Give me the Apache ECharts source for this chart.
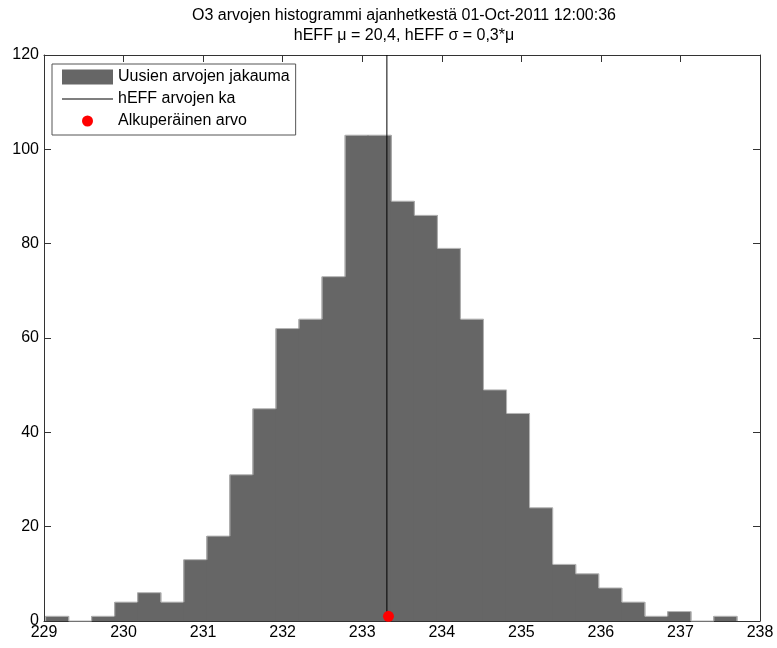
<!DOCTYPE html>
<html>
<head>
<meta charset="utf-8">
<script src="https://cdn.jsdelivr.net/npm/echarts@6/dist/echarts.min.js"></script>
<style>
  html, body { margin: 0; padding: 0; background: #fff; }
  #chart { width: 777px; height: 648px; }
</style>
</head>
<body>
<div id="chart"></div>
<script>
// Histogram bin centres (O3 values) and counts per bin
const binCenters = [
  229.165, 229.454, 229.744, 230.034, 230.323, 230.613, 230.903, 231.193, 231.482, 231.772,
  232.062, 232.351, 232.641, 232.931, 233.220, 233.510, 233.800, 234.089, 234.379, 234.669,
  234.958, 235.248, 235.538, 235.827, 236.117, 236.407, 236.696, 236.986, 237.276, 237.565
];
const binCounts = [
  1, 0, 1, 4, 6, 4, 13, 18, 31, 45,
  62, 64, 73, 103, 103, 89, 86, 79, 64, 49,
  44, 24, 12, 10, 7, 4, 1, 2, 0, 1
];
const binWidth = 0.2897;

// Mean of the hEFF values (vertical line) and the original value (red dot)
const meanLine = [[233.31, 0], [233.31, 120]];
const originalValue = [[233.33, 1]];

// Axis ticks
const xTicks = { min: 229, max: 238, step: 1 };
const yTicks = { min: 0, max: 120, step: 20 };

const titleText = 'O3 arvojen histogrammi ajanhetkestä 01-Oct-2011 12:00:36\nhEFF μ = 20,4, hEFF σ = 0,3*μ';
const legendNames = ['Uusien arvojen jakauma', 'hEFF arvojen ka', 'Alkuperäinen arvo'];

const FONT = '"Liberation Sans", Arial, Helvetica, sans-serif';
const AXIS_COLOR = '#333';
const BAR_FILL = '#666666';
const BAR_EDGE = '#b4b4b4';

const histData = binCenters.map((c, i) => [c, binCounts[i]]);

const chart = echarts.init(document.getElementById('chart'), null, { renderer: 'canvas' });

const frameAxis = (extra) => Object.assign({
  type: 'value',
  axisLine: { show: true, onZero: false, lineStyle: { color: AXIS_COLOR, width: 1 } },
  axisTick: { show: true, inside: true, length: 7, lineStyle: { color: AXIS_COLOR } },
  splitLine: { show: false }
}, extra);

// Each bar: a filled rectangle (slightly widened so neighbours meet without
// seams) plus a light outline along its top and along the parts of its
// sides that rise above the neighbouring bars.
function renderBin(params, api) {
  const i = params.dataIndexInside;
  const n = params.dataInsideLength;
  const c = api.value(0, i);
  const v = api.value(1, i);
  const prev = i > 0 ? api.value(1, i - 1) : 0;
  const next = i < n - 1 ? api.value(1, i + 1) : 0;
  const tl = api.coord([c - binWidth / 2, v]);
  const br = api.coord([c + binWidth / 2, 0]);
  const children = [{
    type: 'rect',
    shape: { x: tl[0] - 0.5, y: tl[1], width: br[0] - tl[0] + 1, height: br[1] - tl[1] },
    style: { fill: BAR_FILL }
  }, {
    type: 'line',
    shape: { x1: tl[0], y1: tl[1], x2: br[0], y2: tl[1] },
    style: { stroke: BAR_EDGE, lineWidth: 1 }
  }];
  if (v > prev) {
    const low = api.coord([c - binWidth / 2, prev]);
    children.push({
      type: 'line',
      shape: { x1: tl[0], y1: tl[1], x2: tl[0], y2: low[1] },
      style: { stroke: BAR_EDGE, lineWidth: 1 }
    });
  }
  if (v > next) {
    const low = api.coord([c + binWidth / 2, next]);
    children.push({
      type: 'line',
      shape: { x1: br[0], y1: tl[1], x2: br[0], y2: low[1] },
      style: { stroke: BAR_EDGE, lineWidth: 1 }
    });
  }
  return { type: 'group', children: children };
}

chart.setOption({
  animation: false,
  backgroundColor: '#fff',
  textStyle: { fontFamily: FONT },
  title: {
    text: titleText,
    left: 404,
    top: 6,
    padding: 0,
    textAlign: 'center',
    textStyle: { fontFamily: FONT, fontSize: 16, fontWeight: 'normal', color: '#000', lineHeight: 20 }
  },
  grid: { left: 44, right: 17, top: 55, bottom: 27 },
  legend: {
    orient: 'vertical',
    left: 52,
    top: 64,
    padding: [5, 6, 6, 10],
    itemWidth: 51,
    itemHeight: 15,
    itemGap: 6,
    borderColor: '#555',
    borderWidth: 1,
    backgroundColor: '#fff',
    textStyle: { fontFamily: FONT, fontSize: 16, color: '#000', lineHeight: 16 },
    data: [
      { name: legendNames[0], icon: 'rect' },
      { name: legendNames[1], icon: 'path://M0,0M51,15M0,7h51v1h-51z' },
      { name: legendNames[2], icon: 'path://M0,0M51,15M31,7.5a5.5,5.5 0 1,0 -11,0a5.5,5.5 0 1,0 11,0z' }
    ]
  },
  xAxis: [
    frameAxis({
      position: 'bottom',
      min: xTicks.min, max: xTicks.max, interval: xTicks.step,
      axisLabel: { color: '#000', fontSize: 16, fontFamily: FONT, margin: 4 }
    }),
    frameAxis({
      position: 'top',
      min: xTicks.min, max: xTicks.max, interval: xTicks.step,
      axisLabel: { show: false }
    })
  ],
  yAxis: [
    frameAxis({
      position: 'left',
      min: yTicks.min, max: yTicks.max, interval: yTicks.step,
      axisLabel: { color: '#000', fontSize: 16, fontFamily: FONT, margin: 5 }
    }),
    frameAxis({
      position: 'right',
      min: yTicks.min, max: yTicks.max, interval: yTicks.step,
      axisLabel: { show: false }
    })
  ],
  series: [
    {
      name: legendNames[0],
      type: 'custom',
      xAxisIndex: 0,
      yAxisIndex: 0,
      z: 2,
      itemStyle: { color: BAR_FILL },
      data: histData,
      renderItem: renderBin
    },
    {
      name: legendNames[1],
      type: 'line',
      z: 3,
      symbol: 'none',
      color: '#000',
      itemStyle: { color: '#000' },
      lineStyle: { color: '#000', width: 1 },
      data: meanLine
    },
    {
      name: legendNames[2],
      type: 'scatter',
      z: 4,
      symbol: 'circle',
      symbolSize: 11,
      itemStyle: { color: '#ff0000', opacity: 1 },
      data: originalValue
    }
  ]
});
</script>
</body>
</html>
